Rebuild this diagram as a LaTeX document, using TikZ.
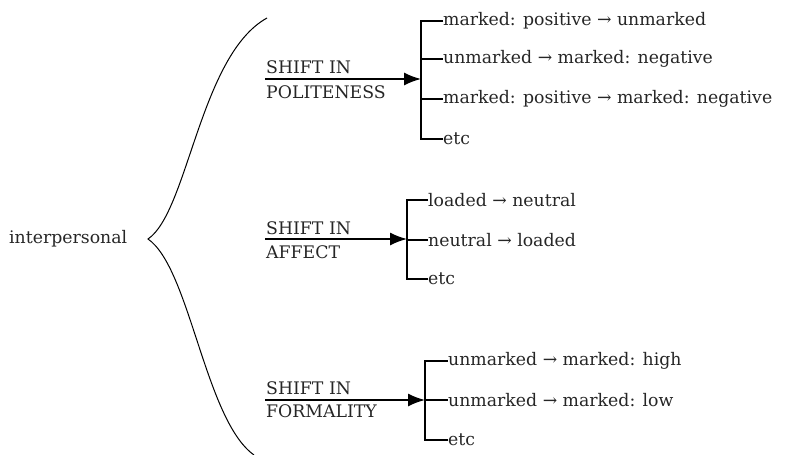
\documentclass[tikz,border=0pt]{standalone}
\usepackage{fontspec}
\setmainfont{DejaVu Serif}
\usetikzlibrary{arrows.meta}
\begin{document}
\begin{tikzpicture}[x=1pt,y=-1pt,
  lbl/.style={anchor=west,inner sep=0pt,font=\fontsize{17.3}{20}\selectfont,text=black!85},
  brk/.style={line width=1.6pt},
  arr/.style={line width=1.6pt,-{Latex[length=17pt,width=13pt]}},
  brace/.style={line width=1pt}]
\useasboundingbox (0,0) rectangle (787,455);
% root
\node[lbl] (root) at (9,239) {interpersonal};
\coordinate (tip) at (148,239);
\coordinate (btop) at (267,18);
\coordinate (bbot) at (254,455);
\draw[brace] (btop) .. controls (200,55) and (188,212) .. (tip)
  .. controls (190,268) and (205,420) .. (bbot);
% group 1
\node[lbl] (h1a) at (266,67) {SHIFT IN};
\node[lbl] (h1b) at (266,92) {POLITENESS};
\coordinate (a1s) at (265,79);
\coordinate (a1e) at (421,79);
\node[lbl] (p1) at (443,21) {marked: positive → unmarked};
\node[lbl] (p2) at (443,59) {unmarked → marked: negative};
\node[lbl] (p3) at (443,99) {marked: positive → marked: negative};
\node[lbl] (p4) at (443,139) {etc};
\draw[brk] (p1.west) -- (421,21) -- (421,139) -- (p4.west);
\draw[brk] (421,59) -- (p2.west);
\draw[brk] (421,99) -- (p3.west);
\draw[arr] (a1s) -- (a1e);
% group 2
\node[lbl] (h2a) at (266,228) {SHIFT IN};
\node[lbl] (h2b) at (266,252) {AFFECT};
\coordinate (a2s) at (265,239);
\coordinate (a2e) at (407,239);
\node[lbl] (q1) at (428,200) {loaded → neutral};
\node[lbl] (q2) at (428,240) {neutral → loaded};
\node[lbl] (q3) at (428,279) {etc};
\draw[brk] (q1.west) -- (407,200) -- (407,279) -- (q3.west);
\draw[brk] (407,240) -- (q2.west);
\draw[arr] (a2s) -- (a2e);
% group 3
\node[lbl] (h3a) at (266,388) {SHIFT IN};
\node[lbl] (h3b) at (266,411) {FORMALITY};
\coordinate (a3s) at (265,400);
\coordinate (a3e) at (425,400);
\node[lbl] (r1) at (448,361) {unmarked → marked: high};
\node[lbl] (r2) at (448,400) {unmarked → marked: low};
\node[lbl] (r3) at (448,440) {etc};
\draw[brk] (r1.west) -- (425,361) -- (425,440) -- (r3.west);
\draw[brk] (425,400) -- (r2.west);
\draw[arr] (a3s) -- (a3e);
\end{tikzpicture}
\end{document}
